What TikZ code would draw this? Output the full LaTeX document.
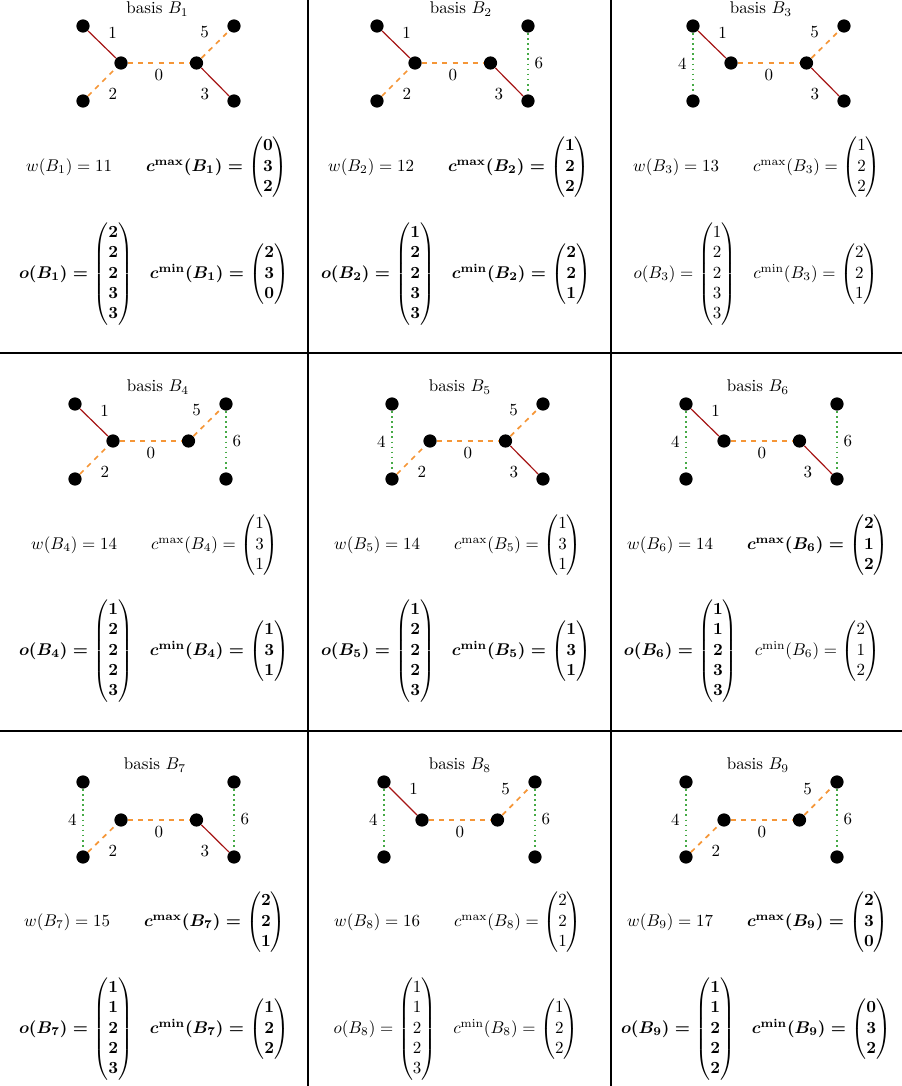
\documentclass[tikz,border=0pt]{standalone}
\usepackage{amsmath}

\definecolor{edgered}{RGB}{165,20,20}
\definecolor{edgeorange}{RGB}{245,150,55}
\definecolor{edgegreen}{RGB}{70,170,70}

\begin{document}
\begin{tikzpicture}[x=0.0207cm, y=-0.0207cm,
  vertex/.style={circle, fill=black, inner sep=0pt, minimum size=7.8pt},
  redge/.style={draw=edgered, line width=0.7pt},
  oedge/.style={draw=edgeorange, dashed, line width=1pt},
  gedge/.style={draw=edgegreen, dotted, line width=1pt},
  gridline/.style={line width=1.1pt}]
\useasboundingbox (0,0) rectangle (902,1086);

\draw[gridline] (308,0) -- (308,1086);
\draw[gridline] (611,0) -- (611,1086);
\draw[gridline] (0,353) -- (902,353);
\draw[gridline] (0,731) -- (902,731);

% basis B_1
\node (t1) at (157.5,9) {basis $B_1$};
\node[vertex] (tl1) at (83,26) {};
\node[vertex] (cl1) at (121,63) {};
\node[vertex] (bl1) at (83,101) {};
\node[vertex] (cr1) at (196.5,63) {};
\node[vertex] (tr1) at (234,26) {};
\node[vertex] (br1) at (234,101) {};
\draw[redge] (tl1) -- node[above right] (l1a) {1} (cl1);
\draw[oedge] (cr1) -- node[above left] (l1b) {5} (tr1);
\draw[oedge] (cl1) -- node[below] (l1c) {0} (cr1);
\draw[oedge] (bl1) -- node[below right] (l1d) {2} (cl1);
\draw[redge] (cr1) -- node[below left] (l1e) {3} (br1);
\node (wa) at (157,167) {$w(B_1) = 11$\qquad{\boldmath$c^{\max}(B_1) = \begin{pmatrix}0\\3\\2\end{pmatrix}$}};
\node (oa) at (154,274) {{\boldmath$o(B_1) = \begin{pmatrix}2\\2\\2\\3\\3\end{pmatrix}$}\quad{\boldmath$c^{\min}(B_1) = \begin{pmatrix}2\\3\\0\end{pmatrix}$}};

% basis B_2
\node (t2) at (461,9) {basis $B_2$};
\node[vertex] (tl2) at (377,26) {};
\node[vertex] (cl2) at (415,63) {};
\node[vertex] (bl2) at (377,101) {};
\node[vertex] (cr2) at (490.5,63) {};
\node[vertex] (tr2) at (528,26) {};
\node[vertex] (br2) at (528,101) {};
\draw[redge] (tl2) -- node[above right] (l2a) {1} (cl2);
\draw[oedge] (cl2) -- node[below] (l2b) {0} (cr2);
\draw[oedge] (bl2) -- node[below right] (l2c) {2} (cl2);
\draw[redge] (cr2) -- node[below left] (l2d) {3} (br2);
\draw[gedge] (tr2) -- node[right] (l2e) {6} (br2);
\node (wb) at (459,167) {$w(B_2) = 12$\qquad{\boldmath$c^{\max}(B_2) = \begin{pmatrix}1\\2\\2\end{pmatrix}$}};
\node (ob) at (456,274) {{\boldmath$o(B_2) = \begin{pmatrix}1\\2\\2\\3\\3\end{pmatrix}$}\quad{\boldmath$c^{\min}(B_2) = \begin{pmatrix}2\\2\\1\end{pmatrix}$}};

% basis B_3
\node (t3) at (761,9) {basis $B_3$};
\node[vertex] (tl3) at (693,26) {};
\node[vertex] (cl3) at (731,63) {};
\node[vertex] (bl3) at (693,101) {};
\node[vertex] (cr3) at (806.5,63) {};
\node[vertex] (tr3) at (844,26) {};
\node[vertex] (br3) at (844,101) {};
\draw[redge] (tl3) -- node[above right] (l3a) {1} (cl3);
\draw[gedge] (tl3) -- node[left] (l3b) {4} (bl3);
\draw[oedge] (cl3) -- node[below] (l3c) {0} (cr3);
\draw[oedge] (cr3) -- node[above left] (l3d) {5} (tr3);
\draw[redge] (cr3) -- node[below left] (l3e) {3} (br3);
\node (wc) at (757,167) {$w(B_3) = 13$\qquad$c^{\max}(B_3) = \begin{pmatrix}1\\2\\2\end{pmatrix}$};
\node (oc) at (756,274) {$o(B_3) = \begin{pmatrix}1\\2\\2\\3\\3\end{pmatrix}$\quad$c^{\min}(B_3) = \begin{pmatrix}2\\2\\1\end{pmatrix}$};

% basis B_4
\node (t4) at (158,387) {basis $B_4$};
\node[vertex] (tl4) at (75,404) {};
\node[vertex] (cl4) at (113,441) {};
\node[vertex] (bl4) at (75,479) {};
\node[vertex] (cr4) at (188.5,441) {};
\node[vertex] (tr4) at (226,404) {};
\node[vertex] (br4) at (226,479) {};
\draw[redge] (tl4) -- node[above right] (l4a) {1} (cl4);
\draw[oedge] (cr4) -- node[above left] (l4b) {5} (tr4);
\draw[oedge] (cl4) -- node[below] (l4c) {0} (cr4);
\draw[oedge] (bl4) -- node[below right] (l4d) {2} (cl4);
\draw[gedge] (tr4) -- node[right] (l4e) {6} (br4);
\node (wd) at (155,545) {$w(B_4) = 14$\qquad$c^{\max}(B_4) = \begin{pmatrix}1\\3\\1\end{pmatrix}$};
\node (od) at (154,651) {{\boldmath$o(B_4) = \begin{pmatrix}1\\2\\2\\2\\3\end{pmatrix}$}\quad{\boldmath$c^{\min}(B_4) = \begin{pmatrix}1\\3\\1\end{pmatrix}$}};

% basis B_5
\node (t5) at (460,387) {basis $B_5$};
\node[vertex] (tl5) at (392,404) {};
\node[vertex] (cl5) at (430,441) {};
\node[vertex] (bl5) at (392,479) {};
\node[vertex] (cr5) at (505.5,441) {};
\node[vertex] (tr5) at (543,404) {};
\node[vertex] (br5) at (543,479) {};
\draw[gedge] (tl5) -- node[left] (l5a) {4} (bl5);
\draw[oedge] (bl5) -- node[below right] (l5b) {2} (cl5);
\draw[oedge] (cl5) -- node[below] (l5c) {0} (cr5);
\draw[oedge] (cr5) -- node[above left] (l5d) {5} (tr5);
\draw[redge] (cr5) -- node[below left] (l5e) {3} (br5);
\node (we) at (458,545) {$w(B_5) = 14$\qquad$c^{\max}(B_5) = \begin{pmatrix}1\\3\\1\end{pmatrix}$};
\node (oe) at (456,651) {{\boldmath$o(B_5) = \begin{pmatrix}1\\2\\2\\2\\3\end{pmatrix}$}\quad{\boldmath$c^{\min}(B_5) = \begin{pmatrix}1\\3\\1\end{pmatrix}$}};

% basis B_6
\node (t6) at (758,387) {basis $B_6$};
\node[vertex] (tl6) at (686,404) {};
\node[vertex] (cl6) at (724,441) {};
\node[vertex] (bl6) at (686,479) {};
\node[vertex] (cr6) at (799.5,441) {};
\node[vertex] (tr6) at (837,404) {};
\node[vertex] (br6) at (837,479) {};
\draw[gedge] (tl6) -- node[left] (l6a) {4} (bl6);
\draw[redge] (tl6) -- node[above right] (l6b) {1} (cl6);
\draw[oedge] (cl6) -- node[below] (l6c) {0} (cr6);
\draw[redge] (cr6) -- node[below left] (l6d) {3} (br6);
\draw[gedge] (tr6) -- node[right] (l6e) {6} (br6);
\node (wf) at (758,545) {$w(B_6) = 14$\qquad{\boldmath$c^{\max}(B_6) = \begin{pmatrix}2\\1\\2\end{pmatrix}$}};
\node (of) at (752,651) {{\boldmath$o(B_6) = \begin{pmatrix}1\\1\\2\\3\\3\end{pmatrix}$}\quad$c^{\min}(B_6) = \begin{pmatrix}2\\1\\2\end{pmatrix}$};

% basis B_7
\node (t7) at (155,765) {basis $B_7$};
\node[vertex] (tl7) at (83,782) {};
\node[vertex] (cl7) at (121,820) {};
\node[vertex] (bl7) at (83,857) {};
\node[vertex] (cr7) at (196.5,820) {};
\node[vertex] (tr7) at (234,782) {};
\node[vertex] (br7) at (234,857) {};
\draw[gedge] (tl7) -- node[left] (l7a) {4} (bl7);
\draw[oedge] (bl7) -- node[below right] (l7b) {2} (cl7);
\draw[oedge] (cl7) -- node[below] (l7c) {0} (cr7);
\draw[redge] (cr7) -- node[below left] (l7d) {3} (br7);
\draw[gedge] (tr7) -- node[right] (l7e) {6} (br7);
\node (wg) at (155,922) {$w(B_7) = 15$\qquad{\boldmath$c^{\max}(B_7) = \begin{pmatrix}2\\2\\1\end{pmatrix}$}};
\node (og) at (154,1029) {{\boldmath$o(B_7) = \begin{pmatrix}1\\1\\2\\2\\3\end{pmatrix}$}\quad{\boldmath$c^{\min}(B_7) = \begin{pmatrix}1\\2\\2\end{pmatrix}$}};

% basis B_8
\node (t8) at (460,765) {basis $B_8$};
\node[vertex] (tl8) at (384,782) {};
\node[vertex] (cl8) at (422,820) {};
\node[vertex] (bl8) at (384,857) {};
\node[vertex] (cr8) at (497.5,820) {};
\node[vertex] (tr8) at (535,782) {};
\node[vertex] (br8) at (535,857) {};
\draw[gedge] (tl8) -- node[left] (l8a) {4} (bl8);
\draw[redge] (tl8) -- node[above right] (l8b) {1} (cl8);
\draw[oedge] (cl8) -- node[below] (l8c) {0} (cr8);
\draw[oedge] (cr8) -- node[above left] (l8d) {5} (tr8);
\draw[gedge] (tr8) -- node[right] (l8e) {6} (br8);
\node (wh) at (458,922) {$w(B_8) = 16$\qquad$c^{\max}(B_8) = \begin{pmatrix}2\\2\\1\end{pmatrix}$};
\node (oh) at (456,1029) {$o(B_8) = \begin{pmatrix}1\\1\\2\\2\\3\end{pmatrix}$\quad$c^{\min}(B_8) = \begin{pmatrix}1\\2\\2\end{pmatrix}$};

% basis B_9
\node (t9) at (758,765) {basis $B_9$};
\node[vertex] (tl9) at (686,782) {};
\node[vertex] (cl9) at (724,820) {};
\node[vertex] (bl9) at (686,857) {};
\node[vertex] (cr9) at (799.5,820) {};
\node[vertex] (tr9) at (837,782) {};
\node[vertex] (br9) at (837,857) {};
\draw[gedge] (tl9) -- node[left] (l9a) {4} (bl9);
\draw[oedge] (bl9) -- node[below right] (l9b) {2} (cl9);
\draw[oedge] (cl9) -- node[below] (l9c) {0} (cr9);
\draw[oedge] (cr9) -- node[above left] (l9d) {5} (tr9);
\draw[gedge] (tr9) -- node[right] (l9e) {6} (br9);
\node (wi) at (758,922) {$w(B_9) = 17$\qquad{\boldmath$c^{\max}(B_9) = \begin{pmatrix}2\\3\\0\end{pmatrix}$}};
\node (oi) at (756,1029) {{\boldmath$o(B_9) = \begin{pmatrix}1\\1\\2\\2\\2\end{pmatrix}$}\quad{\boldmath$c^{\min}(B_9) = \begin{pmatrix}0\\3\\2\end{pmatrix}$}};
\end{tikzpicture}
\end{document}
